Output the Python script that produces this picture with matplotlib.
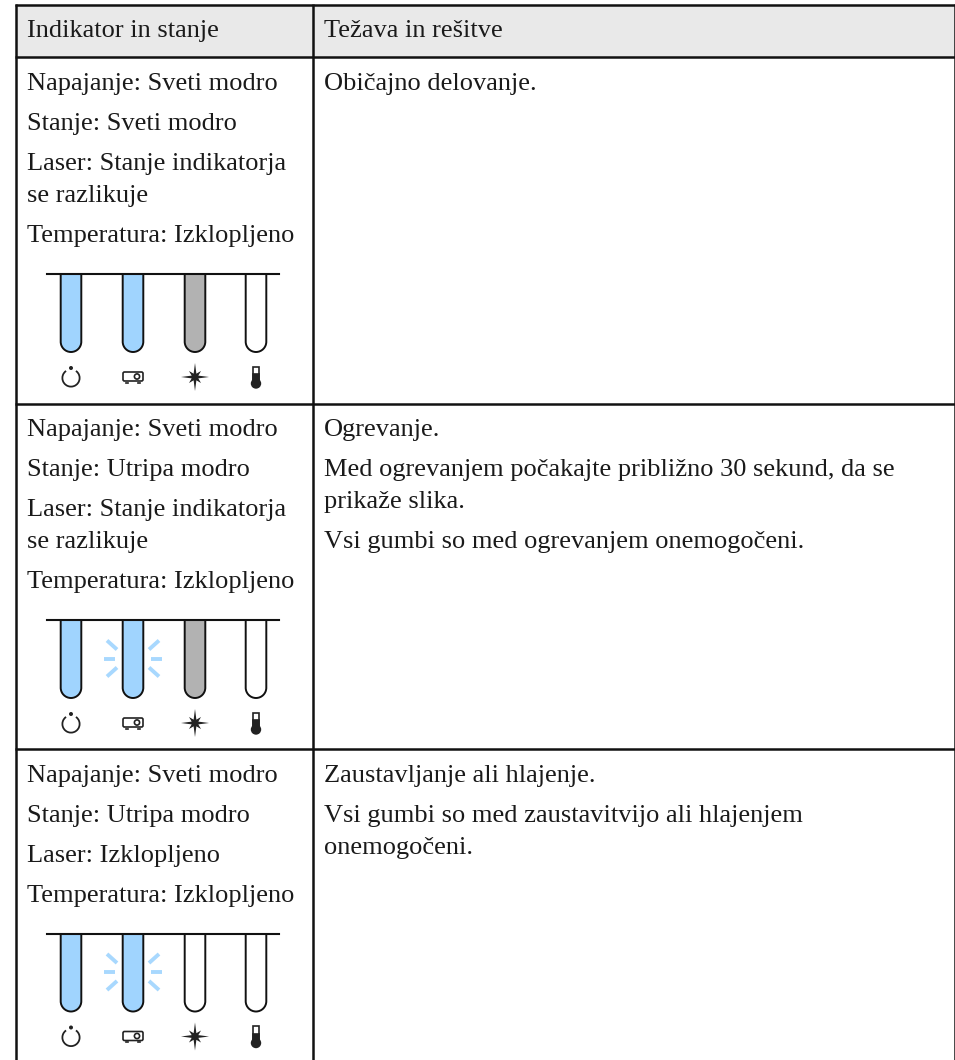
"""
Indicator status table: three rows of text with little indicator lamp panels.
Everything is placed on one full-figure axes in pixel coordinates.
"""

import numpy as np
import matplotlib.pyplot as plt
from matplotlib.patches import Circle, FancyBboxPatch, PathPatch, Rectangle, Wedge
from matplotlib.path import Path

header = ["Indikator in stanje", "Težava in rešitve"]

row1_left = ["Napajanje: Sveti modro", "Stanje: Sveti modro", "Laser: Stanje indikatorja",
             "se razlikuje", "Temperatura: Izklopljeno"]
row2_left = ["Napajanje: Sveti modro", "Stanje: Utripa modro", "Laser: Stanje indikatorja",
             "se razlikuje", "Temperatura: Izklopljeno"]
row3_left = ["Napajanje: Sveti modro", "Stanje: Utripa modro", "Laser: Izklopljeno",
             "Temperatura: Izklopljeno"]

row1_right = ["Običajno delovanje."]
row2_right = ["Ogrevanje.", "Med ogrevanjem počakajte približno 30 sekund, da se",
              "prikaže slika.", "Vsi gumbi so med ogrevanjem onemogočeni."]
row3_right = ["Zaustavljanje ali hlajenje.", "Vsi gumbi so med zaustavitvijo ali hlajenjem",
              "onemogočeni."]

# lamp state per row: power, status, laser, temperature
row1_lamps = ["blue", "blue", "gray", "off"]
row2_lamps = ["blue", "blink", "gray", "off"]
row3_lamps = ["blue", "blink", "off", "off"]

LAMP_FILL = {"blue": "#a0d4fe", "blink": "#a0d4fe", "gray": "#b2b2b2", "off": "white"}
FONT = "Liberation Serif"
TEXT_SIZE = 19
INK = "#1a1a1a"
ICON = "#222222"


def draw_lines(ax, x, lines, ys):
    for s, y in zip(lines, ys):
        ax.text(x, y, s, fontsize=TEXT_SIZE, family=FONT, color=INK, va="baseline", ha="left")


def tube_path(cx, top, bottom, half):
    k = 0.5523 * half
    verts = [(cx - half, top), (cx - half, bottom - half),
             (cx - half, bottom - half + k), (cx - k, bottom), (cx, bottom),
             (cx + k, bottom), (cx + half, bottom - half + k), (cx + half, bottom - half),
             (cx + half, top)]
    codes = [Path.MOVETO, Path.LINETO, Path.CURVE4, Path.CURVE4, Path.CURVE4,
             Path.CURVE4, Path.CURVE4, Path.CURVE4, Path.LINETO]
    return Path(verts, codes)


def draw_blink(ax, cx, cy):
    for sx in (-1, 1):
        ax.plot([cx + sx * 18, cx + sx * 29], [cy, cy], color="#a8d8fe", lw=2.8, solid_capstyle="butt")
        for sy in (-1, 1):
            ax.plot([cx + sx * 16, cx + sx * 26], [cy + sy * 9, cy + sy * 18],
                    color="#a8d8fe", lw=2.8, solid_capstyle="butt")


def draw_icons(ax, xs, cy):
    # power
    ax.add_patch(Wedge((xs[0], cy + 1), 9.5, -55, 235, width=1.8, color=ICON, lw=0))
    ax.add_patch(Circle((xs[0], cy - 9), 2, color=ICON, lw=0))
    # projector
    cx = xs[1]
    ax.add_patch(FancyBboxPatch((cx - 10, cy - 5), 20, 9, boxstyle="round,pad=0,rounding_size=1.5",
                                fc="white", ec=ICON, lw=1.2))
    ax.add_patch(Circle((cx + 4, cy - 0.5), 2.6, fc="white", ec=ICON, lw=1.2))
    ax.plot([cx - 7, cx - 5], [cy + 5.5, cy + 5.5], color=ICON, lw=1.2)
    ax.plot([cx + 5, cx + 7], [cy + 5.5, cy + 5.5], color=ICON, lw=1.2)
    # laser star, long spikes on the axes and short ones on the diagonals
    cx = xs[2]
    angles = np.arange(16) * np.pi / 8
    radii = np.array([14, 3.6, 8.5, 3.6] * 4)
    ax.fill(cx + radii * np.cos(angles), cy + radii * np.sin(angles), color=ICON, lw=0)
    # thermometer
    cx = xs[3]
    ax.add_patch(Rectangle((cx - 2.7, cy - 10.5), 5.4, 14, fc="white", ec=ICON, lw=1.2))
    ax.add_patch(Rectangle((cx - 2.7, cy - 3), 5.4, 8, fc=ICON, ec=ICON, lw=1.2))
    ax.add_patch(Circle((cx, cy + 6.5), 5.2, color=ICON, lw=0))


def draw_panel(ax, top, lamps):
    xs = [71, 133, 195, 256]
    bottom = top + 78
    for cx, state in zip(xs, lamps):
        p = tube_path(cx, top, bottom, 10.3)
        ax.add_patch(PathPatch(p, fc=LAMP_FILL[state], ec="#111111", lw=1.4))
        if state == "blink":
            draw_blink(ax, cx, top + 38.5)
    ax.plot([47, 279], [top, top], color="#111111", lw=1.5)
    draw_icons(ax, xs, top + 103)


fig = plt.figure(figsize=(9.55, 10.6), dpi=100)
ax = fig.add_axes([0, 0, 1, 1])
ax.set_xlim(0, 955)
ax.set_ylim(1060, 0)
ax.axis("off")

ax.add_patch(Rectangle((16, 5), 939, 52, fc="#e9e9e9", ec="none"))

# table rules
rule = dict(color="#111111", lw=1.8, solid_capstyle="butt")
for y in (5, 57, 404, 749):
    ax.plot([15, 955], [y, y], **rule)
ax.plot([16, 16], [4, 1060], **rule)
ax.plot([313, 313], [4, 1060], **rule)
ax.plot([955, 955], [4, 1060], **rule)

draw_lines(ax, 27, header[:1], [37])
draw_lines(ax, 324, header[1:], [37])

draw_lines(ax, 27, row1_left, [90, 130, 170, 202, 242])
draw_lines(ax, 27, row2_left, [436, 476, 516, 548, 588])
draw_lines(ax, 27, row3_left, [782, 822, 862, 902])

draw_lines(ax, 324, row1_right, [90])
draw_lines(ax, 324, row2_right, [436, 476, 508, 548])
draw_lines(ax, 324, row3_right, [782, 822, 854])

draw_panel(ax, 274, row1_lamps)
draw_panel(ax, 620, row2_lamps)
draw_panel(ax, 933.5, row3_lamps)

fig.savefig("out.png", dpi=100)
